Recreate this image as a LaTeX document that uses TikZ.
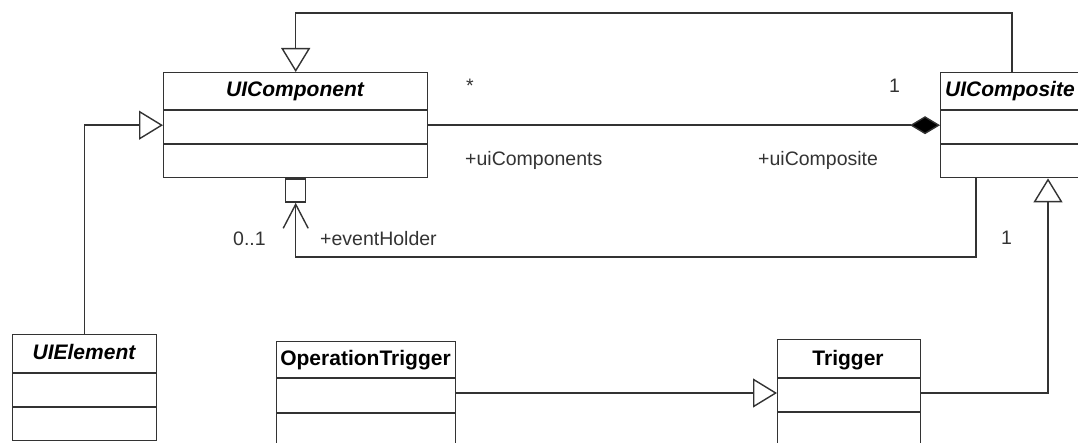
\documentclass[tikz,border=0pt]{standalone}
\usepackage{fontspec}
\setmainfont{Liberation Sans}
\usetikzlibrary{arrows.meta}
\tikzset{
  ln/.style={draw=black!80, line width=1.4pt},
  classbox/.style={ln, fill=white, rectangle, inner sep=0pt, anchor=north west},
  title/.style={font=\fontsize{21}{24}\selectfont\bfseries, inner sep=0pt},
  ititle/.style={font=\fontsize{21}{24}\selectfont\bfseries\itshape, inner sep=0pt},
  lbl/.style={font=\fontsize{19.5}{22}\selectfont, text=black!80, inner sep=0pt},
  gen/.style={ln, -{Triangle[open, length=24pt, width=29pt, fill=white]}},
  comp/.style={ln, {Diamond[length=30pt, width=18pt, fill=black]}-},
  nav/.style={ln, -{Straight Barb[length=24pt, width=25pt]}},
}
\begin{document}
\begin{tikzpicture}[x=1pt, y=-1pt]
\useasboundingbox (0,0) rectangle (1078,443);
\clip (0,0) rectangle (1078,443);

% class boxes
\node[classbox, minimum width=264pt, minimum height=105pt] (uicomp) at (163,72) {};
\node[classbox, minimum width=160pt, minimum height=105pt] (uicomposite) at (940,72) {};
\node[classbox, minimum width=144pt, minimum height=106pt] (uielem) at (12,334) {};
\node[classbox, minimum width=179pt, minimum height=120pt] (optrig) at (276,341) {};
\node[classbox, minimum width=143pt, minimum height=122pt] (trig) at (777,339) {};

% compartment dividers
\draw[ln] (uicomp.west |- 0,110) -- (uicomp.east |- 0,110);
\draw[ln] (uicomp.west |- 0,144) -- (uicomp.east |- 0,144);
\draw[ln] (uicomposite.west |- 0,110) -- (uicomposite.east |- 0,110);
\draw[ln] (uicomposite.west |- 0,144) -- (uicomposite.east |- 0,144);
\draw[ln] (uielem.west |- 0,373) -- (uielem.east |- 0,373);
\draw[ln] (uielem.west |- 0,407) -- (uielem.east |- 0,407);
\draw[ln] (optrig.west |- 0,378) -- (optrig.east |- 0,378);
\draw[ln] (optrig.west |- 0,413) -- (optrig.east |- 0,413);
\draw[ln] (trig.west |- 0,378) -- (trig.east |- 0,378);
\draw[ln] (trig.west |- 0,412) -- (trig.east |- 0,412);

% class names
\node[ititle, anchor=base] (t1) at (295,97) {UIComponent};
\node[ititle, anchor=base west] (t2) at (945,97) {UIComposite};
\node[ititle, anchor=base] (t3) at (84,359) {UIElement};
\node[title, anchor=base] (t4) at (365.5,365) {OperationTrigger};
\node[title, anchor=base] (t5) at (848,365) {Trigger};

% qualifier box under UIComponent
\node[ln, fill=white, rectangle, inner sep=0pt, minimum width=20pt, minimum height=23pt, anchor=north] (qual) at (uicomp.south) {};

% routing points
\coordinate (k1) at (1012,13);
\coordinate (k3) at (976,257);
\coordinate (r5) at (0,393);
\coordinate (k6) at (1048,393);

% UIComposite generalizes UIComponent
\draw[gen] (uicomposite.north -| k1) -- (k1) -| (uicomp.north);
% composition
\draw[comp] (uicomposite.west) -- (uicomp.east);
% event holder navigation
\draw[nav] (uicomposite.south -| k3) -- (k3) -| (qual.south);
% UIElement generalizes UIComponent
\draw[gen] (uielem.north) |- (uicomp.west);
% OperationTrigger generalizes Trigger
\draw[gen] (optrig.east |- r5) -- (trig.west |- r5);
% Trigger generalizes UIComposite
\draw[gen] (trig.east |- k6) -- (k6) -- (uicomposite.south -| k6);

% role names and multiplicities
\node[lbl, anchor=base west] (m1) at (466,93) {*};
\node[lbl, anchor=base west] (m2) at (889,93) {1};
\node[lbl, anchor=base west] (r1) at (465,166) {+uiComponents};
\node[lbl, anchor=base west] (r2) at (758,166) {+uiComposite};
\node[lbl, anchor=base west] (m3) at (233,246) {0..1};
\node[lbl, anchor=base west] (r3) at (320,246) {+eventHolder};
\node[lbl, anchor=base west] (m4) at (1001,245) {1};
\end{tikzpicture}
\end{document}
